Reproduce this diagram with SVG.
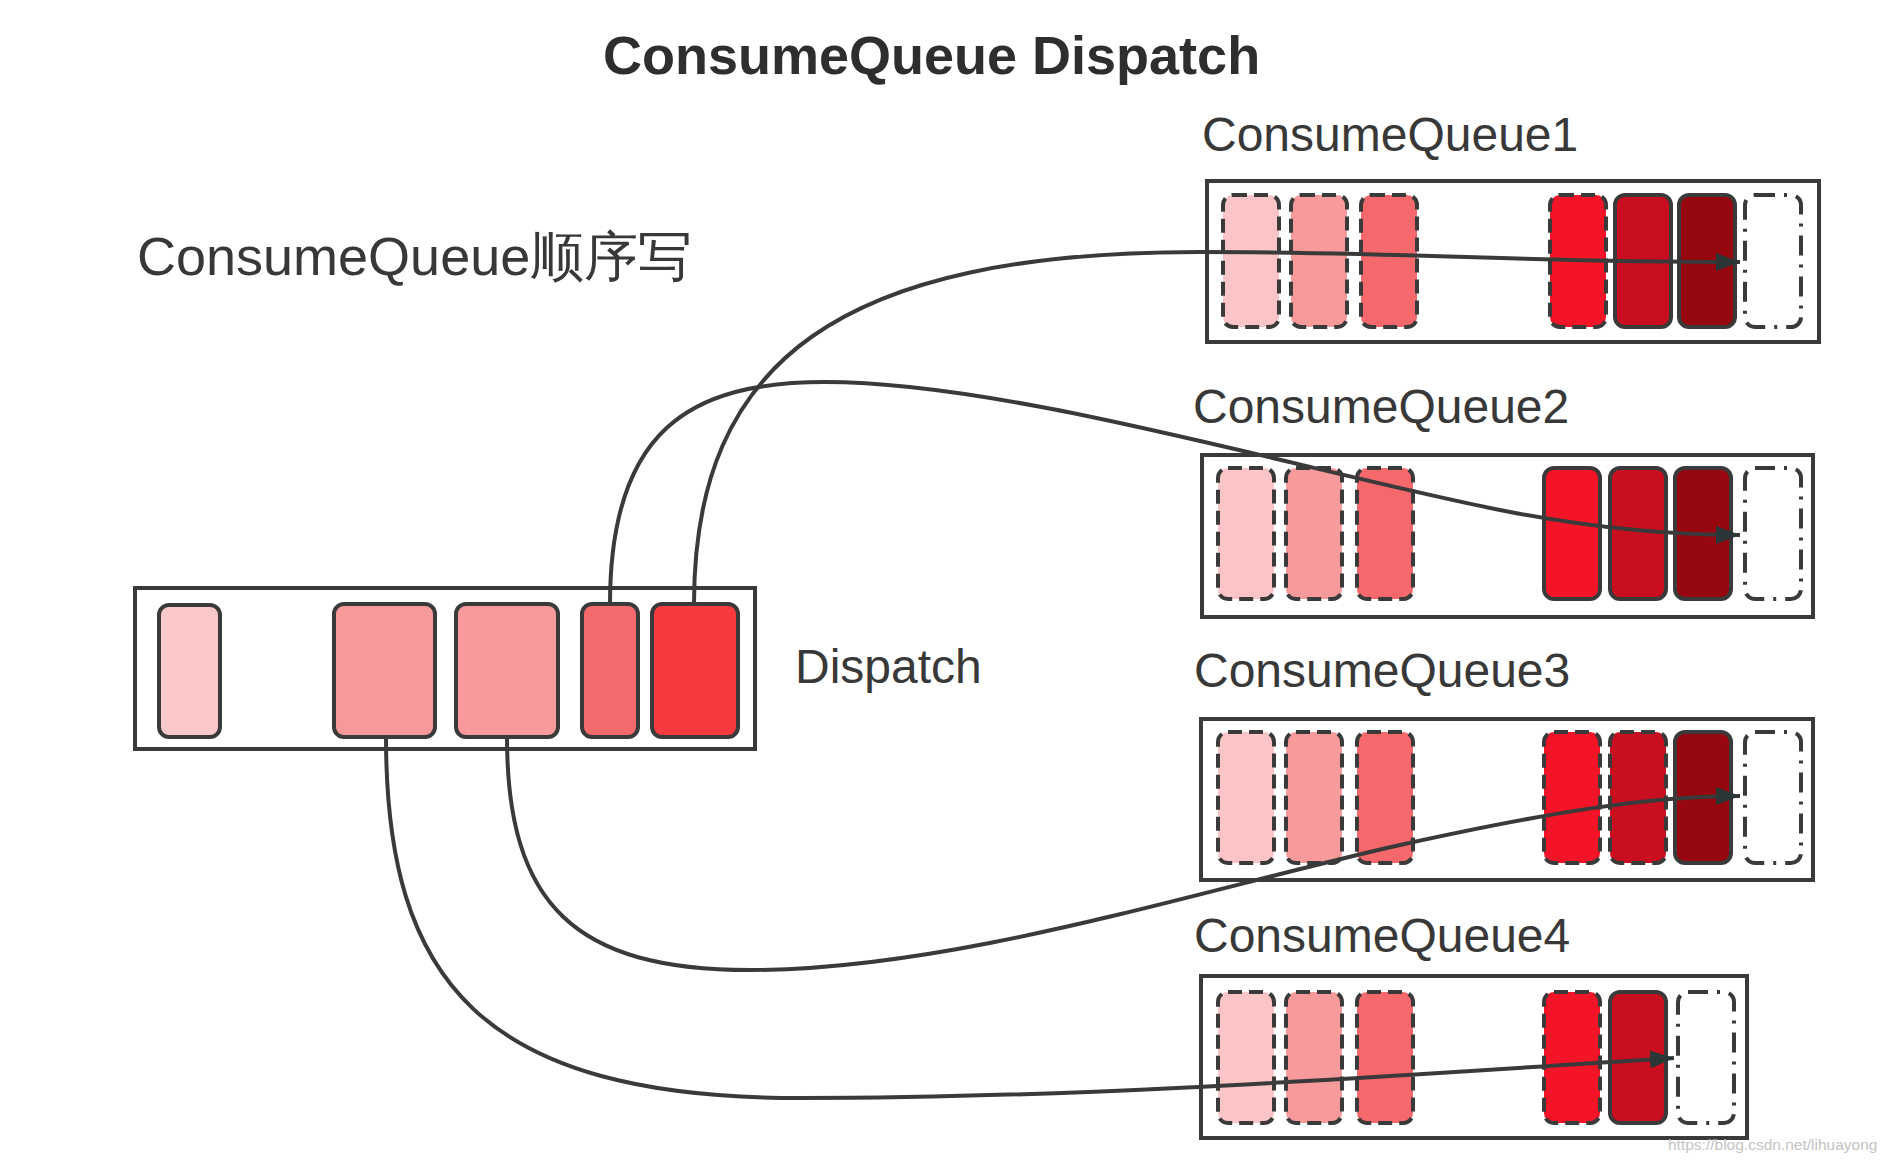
<svg xmlns="http://www.w3.org/2000/svg" width="1890" height="1160" viewBox="0 0 1890 1160">
  <defs>
    <style>
      .txt { font-family: "Liberation Sans", Arial, sans-serif; fill: #383838; }
      .title { font-size: 54px; font-weight: bold; fill: #2e2e2e; }
      .label { font-size: 48px; }
      .frame { fill: #ffffff; stroke: #3a3a3a; stroke-width: 4; }
      .cell { stroke: #3a3a3a; stroke-width: 4; }
      .dash { stroke-dasharray: 14 7; }
      .dashdot { fill: #ffffff; stroke-dasharray: 20 9 3 9; }
      .p1 { fill: #fbc5c7; }
      .p2 { fill: #f79a9c; }
      .p3 { fill: #f5686c; }
      .p4 { fill: #f41427; }
      .p5 { fill: #c90f1f; }
      .p6 { fill: #96070f; }
      .conn { fill: none; stroke: #3a3a3a; stroke-width: 4; marker-end: url(#arrow); }
    </style>
    <marker id="arrow" markerUnits="userSpaceOnUse" markerWidth="26" markerHeight="20" refX="24" refY="10" orient="auto">
      <path d="M0,1 L24,10 L0,19 Z" fill="#2b3636"/>
    </marker>
  </defs>

  <rect width="1890" height="1160" fill="#ffffff"/>

  <g id="title">
    <text class="txt title" x="603" y="74">ConsumeQueue Dispatch</text>
  </g>

  <g id="caption">
    <text class="txt" x="137" y="275" font-size="54" font-family="'Liberation Sans', 'Noto Sans CJK SC', sans-serif">ConsumeQueue顺序写</text>
  </g>

  <g id="dispatch">
    <rect class="frame" x="135" y="588" width="620" height="161"/>
    <rect class="cell" x="159" y="605" width="61" height="132" rx="10" fill="#fbc8ca"/>
    <rect class="cell" x="334" y="604" width="101" height="133" rx="10" fill="#f6999a"/>
    <rect class="cell" x="456" y="604" width="102" height="133" rx="10" fill="#f89a9c"/>
    <rect class="cell" x="582" y="604" width="56" height="133" rx="10" fill="#f46a6d"/>
    <rect class="cell" x="652" y="604" width="86" height="133" rx="10" fill="#f63a40"/>
    <text class="txt label" x="795" y="683">Dispatch</text>
  </g>

  <g id="consumequeue1">
    <text class="txt label" x="1202" y="151">ConsumeQueue1</text>
    <rect class="frame" x="1207" y="181" width="612" height="161"/>
    <rect class="cell dash p1" x="1223" y="195" width="56" height="132" rx="10"/>
    <rect class="cell dash p2" x="1291" y="195" width="56" height="132" rx="10"/>
    <rect class="cell dash p3" x="1361" y="195" width="56" height="132" rx="10"/>
    <rect class="cell dash p4" x="1550" y="195" width="56" height="132" rx="10"/>
    <rect class="cell p5" x="1615" y="195" width="56" height="132" rx="10"/>
    <rect class="cell p6" x="1679" y="195" width="56" height="132" rx="10"/>
    <rect class="cell dashdot" x="1745" y="195" width="56" height="132" rx="10"/>
  </g>

  <g id="consumequeue2">
    <text class="txt label" x="1193" y="423">ConsumeQueue2</text>
    <rect class="frame" x="1202" y="455" width="611" height="162"/>
    <rect class="cell dash p1" x="1218" y="468" width="56" height="131" rx="10"/>
    <rect class="cell dash p2" x="1286" y="468" width="56" height="131" rx="10"/>
    <rect class="cell dash p3" x="1357" y="468" width="56" height="131" rx="10"/>
    <rect class="cell p4" x="1544" y="468" width="56" height="131" rx="10"/>
    <rect class="cell p5" x="1610" y="468" width="56" height="131" rx="10"/>
    <rect class="cell p6" x="1675" y="468" width="56" height="131" rx="10"/>
    <rect class="cell dashdot" x="1745" y="468" width="56" height="131" rx="10"/>
  </g>

  <g id="consumequeue3">
    <text class="txt label" x="1194" y="687">ConsumeQueue3</text>
    <rect class="frame" x="1201" y="719" width="612" height="161"/>
    <rect class="cell dash p1" x="1218" y="732" width="56" height="131" rx="10"/>
    <rect class="cell dash p2" x="1286" y="732" width="56" height="131" rx="10"/>
    <rect class="cell dash p3" x="1357" y="732" width="56" height="131" rx="10"/>
    <rect class="cell dash p4" x="1544" y="732" width="56" height="131" rx="10"/>
    <rect class="cell dash p5" x="1610" y="732" width="56" height="131" rx="10"/>
    <rect class="cell p6" x="1675" y="732" width="56" height="131" rx="10"/>
    <rect class="cell dashdot" x="1745" y="732" width="56" height="131" rx="10"/>
  </g>

  <g id="consumequeue4">
    <text class="txt label" x="1194" y="952">ConsumeQueue4</text>
    <rect class="frame" x="1201" y="976" width="546" height="162"/>
    <rect class="cell dash p1" x="1218" y="992" width="56" height="131" rx="10"/>
    <rect class="cell dash p2" x="1286" y="992" width="56" height="131" rx="10"/>
    <rect class="cell dash p3" x="1357" y="992" width="56" height="131" rx="10"/>
    <rect class="cell dash p4" x="1544" y="992" width="56" height="131" rx="10"/>
    <rect class="cell p5" x="1610" y="992" width="56" height="131" rx="10"/>
    <rect class="cell dashdot" x="1678" y="992" width="56" height="131" rx="10"/>
  </g>

  <g id="connectors">
    <path class="conn" d="M694,604 C694,360 840,252 1200,252 C1420,252 1500,262 1740,262"/>
    <path class="conn" d="M610,604 C610,430 690,382 825,382 C1010,382 1300,470 1500,510 C1600,530 1680,535 1740,535"/>
    <path class="conn" d="M507,737 C507,905 575,970 750,970 C955,970 1200,890 1400,845 C1550,812 1650,796 1740,796"/>
    <path class="conn" d="M386,737 C386,980 480,1098 800,1098 C1100,1098 1400,1075 1674,1058"/>
  </g>

  <g id="watermark">
    <text x="1668" y="1150" font-family="'Liberation Sans', Arial, sans-serif" font-size="15.5" fill="#c4c4c4">https://blog.csdn.net/lihuayong</text>
  </g>
</svg>
